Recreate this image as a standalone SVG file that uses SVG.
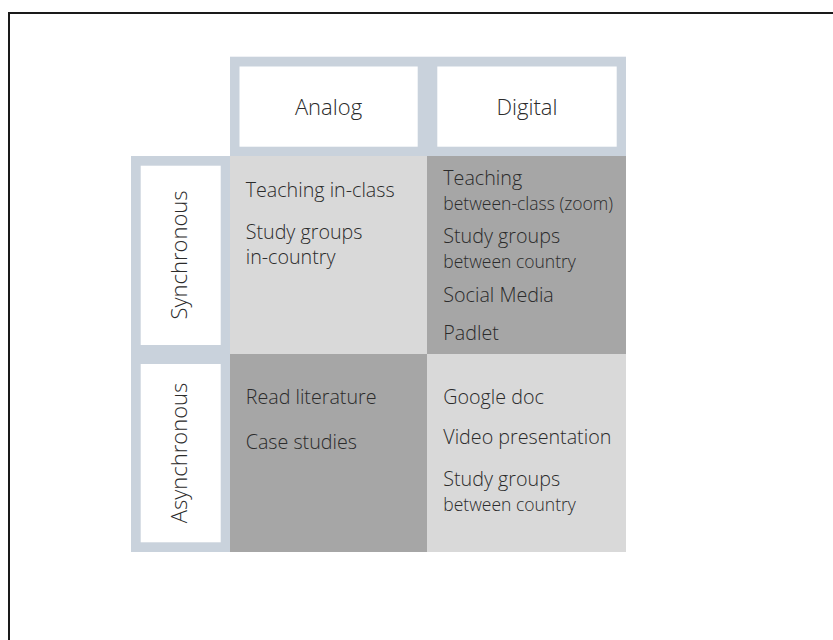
<svg xmlns="http://www.w3.org/2000/svg" width="833" height="640" viewBox="0 0 833 640">
  <style>
    .frame { fill: #ffffff; stroke: #1a1a1a; stroke-width: 2; }
    .hdr { fill: #c9d2dc; }
    .hin { fill: #ffffff; }
    .light { fill: #d9d9d9; }
    .dark { fill: #a6a6a6; }
    text { font-family: "Open Sans", "Noto Sans", "DejaVu Sans", sans-serif; font-weight: 300; fill: #2b2b2b; }
    .h { font-size: 22px; text-anchor: middle; }
    .t { font-size: 19.7px; }
    .s { font-size: 17.5px; }
  </style>
  <rect class="frame" x="9" y="13" width="840" height="640"/>

  <g id="head-analog">
    <rect class="hdr" x="230" y="56.7" width="197" height="99.3"/>
    <rect class="hin" x="239.5" y="66.5" width="178.2" height="80.2"/>
    <text class="h" x="328.5" y="115">Analog</text>
  </g>
  <g id="head-digital">
    <rect class="hdr" x="427" y="56.7" width="199" height="99.3"/>
    <rect class="hin" x="437.3" y="66.5" width="179.4" height="80.2"/>
    <text class="h" x="527" y="115">Digital</text>
  </g>
  <g id="head-synchronous">
    <rect class="hdr" x="131" y="156" width="99" height="198"/>
    <rect class="hin" x="140.7" y="165.7" width="80" height="179.3"/>
    <text class="h" transform="translate(186.5 255) rotate(-90)" x="0" y="0">Synchronous</text>
  </g>
  <g id="head-asynchronous">
    <rect class="hdr" x="131" y="354" width="99" height="198"/>
    <rect class="hin" x="140.7" y="364" width="80" height="178.3"/>
    <text class="h" transform="translate(186.5 453) rotate(-90)" x="0" y="0">Asynchronous</text>
  </g>

  <g id="cell-sync-analog">
    <rect class="light" x="230" y="156" width="197" height="198"/>
    <text class="t" x="245.7" y="196.7">Teaching in-class</text>
    <text class="t" x="245.7" y="239">Study groups</text>
    <text class="t" x="245.7" y="264">in-country</text>
  </g>
  <g id="cell-sync-digital">
    <rect class="dark" x="427" y="156" width="199" height="198"/>
    <text class="t" x="443.3" y="185">Teaching</text>
    <text class="s" x="443.3" y="210">between-class (zoom)</text>
    <text class="t" x="443.3" y="243.3">Study groups</text>
    <text class="s" x="443.3" y="268.3">between country</text>
    <text class="t" x="443.3" y="301.7">Social Media</text>
    <text class="t" x="443.3" y="340">Padlet</text>
  </g>
  <g id="cell-async-analog">
    <rect class="dark" x="230" y="354" width="197" height="198"/>
    <text class="t" x="245.7" y="404">Read literature</text>
    <text class="t" x="245.7" y="449.3">Case studies</text>
  </g>
  <g id="cell-async-digital">
    <rect class="light" x="427" y="354" width="199" height="198"/>
    <text class="t" x="443.3" y="404">Google doc</text>
    <text class="t" x="443.3" y="444">Video presentation</text>
    <text class="t" x="443.3" y="485.7">Study groups</text>
    <text class="s" x="443.3" y="510.7">between country</text>
  </g>
  <g id="connectors"></g>
</svg>
